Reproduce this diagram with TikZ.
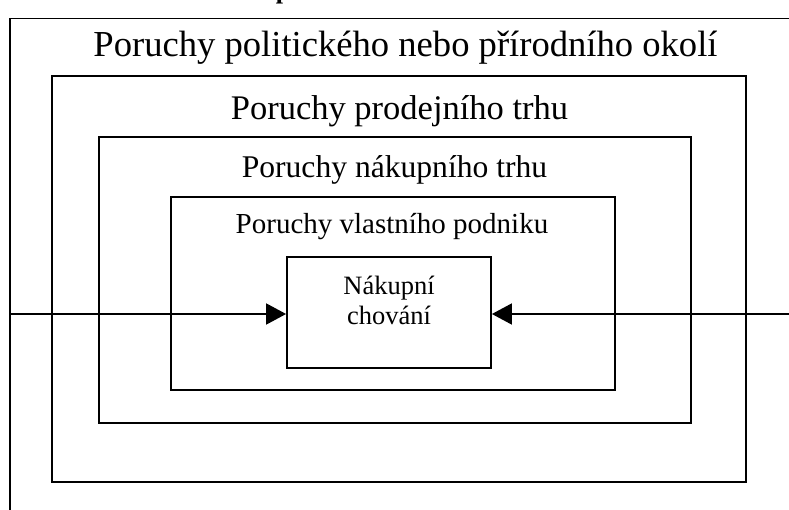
\documentclass[tikz,border=0pt]{standalone}
\usepackage{fontspec}
\setmainfont{Liberation Serif}
\usetikzlibrary{arrows.meta}

\begin{document}
\begin{tikzpicture}[x=1pt, y=1pt, line width=1.8pt,
    frame/.style={draw, line width=1.8pt},
    lvlA/.style={anchor=base, inner sep=0pt, font=\fontsize{36.6pt}{44pt}\selectfont},
    lvlB/.style={anchor=base, inner sep=0pt, font=\fontsize{34.5pt}{41pt}\selectfont},
    lvlC/.style={anchor=base, inner sep=0pt, font=\fontsize{31.6pt}{38pt}\selectfont},
    lvlD/.style={anchor=base, inner sep=0pt, font=\fontsize{29pt}{35pt}\selectfont},
    lvlE/.style={anchor=base, inner sep=0pt, font=\fontsize{26.5pt}{29pt}\selectfont},
    tip/.style={-{Triangle[length=20pt, width=21pt]}}]
    \useasboundingbox (0, 0) rectangle (789, 509);
    \clip (0, 0) rectangle (789, 509);

    \coordinate (O1) at (10, -20);
    \coordinate (O2) at (10, 490.5);
    \coordinate (O3) at (810, 490.5);
    \coordinate (P1) at (52, 27);
    \coordinate (P2) at (746, 433);
    \coordinate (N1) at (99, 86);
    \coordinate (N2) at (691, 372);
    \coordinate (V1) at (171, 119);
    \coordinate (V2) at (615, 312);
    \coordinate (inL) at (10, 195);
    \coordinate (inR) at (789, 195);

    % caption above, cut off by the page
    \node[anchor=base west, inner sep=0pt, font=\fontsize{26pt}{32pt}\selectfont\bfseries] (caption) at (275, 510.5) {p};

    \draw (O1) -- (O2) -- (O3); % outer frame, open to the right and below
    \draw (P1) rectangle (P2); % prodejni trh
    \draw (N1) rectangle (N2); % nakupni trh
    \draw (V1) rectangle (V2); % vlastni podnik

    \node[lvlA] (okoli) at (405.5, 452) {Poruchy politického nebo přírodního okolí};
    \node[lvlB] (prodej) at (399.5, 389) {Poruchy prodejního trhu};
    \node[lvlC] (nakup) at (394.5, 331) {Poruchy nákupního trhu};
    \node[lvlD] (podnik) at (392, 275) {Poruchy vlastního podniku};

    \node[frame, minimum width=204pt, minimum height=111pt] (chovani) at (389, 196.5) {};
    \node[lvlE] (chovaniA) at (389, 214) {Nákupní};
    \node[lvlE] (chovaniB) at (389, 185) {chování};

    \draw[tip] (inL) -- (inL -| chovani.west);
    \draw[tip] (inR) -- (inR -| chovani.east);
\end{tikzpicture}
\end{document}
